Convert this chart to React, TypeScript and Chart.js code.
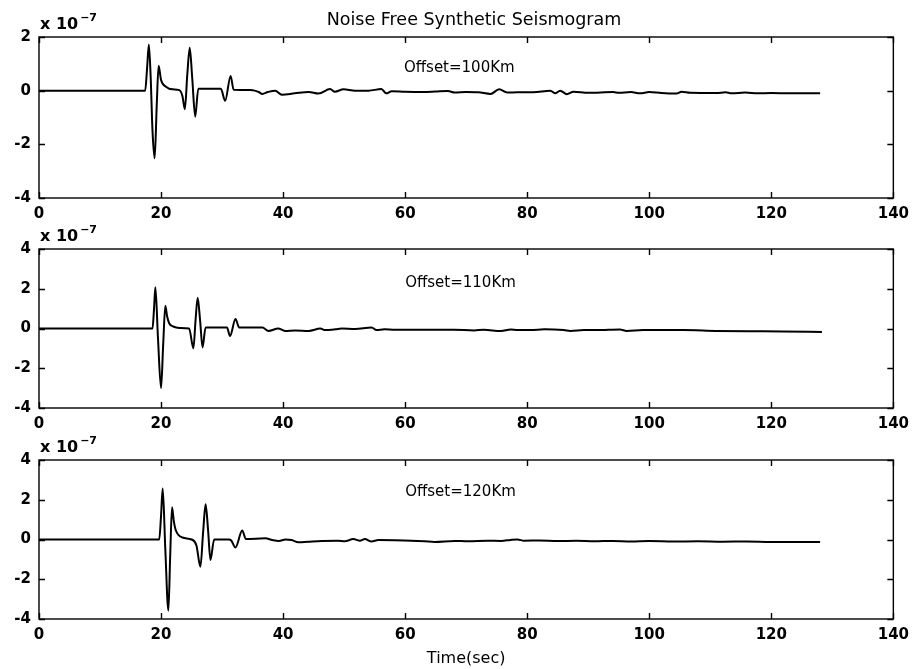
import React, { useEffect, useRef } from "react";
import { Chart, registerables } from "chart.js";

Chart.register(...registerables);

// ---------------- text ----------------
const TITLE = "Noise Free Synthetic Seismogram";
const X_LABEL = "Time(sec)";
const OFFSET_LABELS = ["Offset=100Km", "Offset=110Km", "Offset=120Km"];
const MULT_BASE = "x 10";
const MULT_EXP = "\u22127";

// ---------------- ticks ----------------
const X_TICKS = [0, 20, 40, 60, 80, 100, 120, 140];
const Y_TICKS_TOP = [-4, -2, 0, 2];
const Y_TICKS = [-4, -2, 0, 2, 4];

// ---------------- data (amplitude in units of 1e-7) ----------------
const T1 = [0, 17.4, 17.7, 18.0, 18.3, 18.6, 18.95, 19.3, 19.6, 20.0, 20.8, 21.9, 23.0, 23.5, 23.9, 24.3, 24.7, 25.1, 25.6, 26.1, 29.8, 30.5, 31.4, 31.9, 35.0, 36.0, 36.6, 37.5, 38.7, 39.8, 41.9, 44.2, 45.8, 47.7, 48.5, 49.9, 51.8, 54.0, 56.1, 56.9, 57.8, 60, 63, 65, 67.0, 68.1, 70, 72, 74.0, 75.4, 76.7, 78.4, 81, 83.8, 84.6, 85.4, 86.5, 87.6, 90, 94.1, 95, 97, 98.5, 100, 102, 104.5, 105.3, 106.7, 111, 112.5, 113.5, 115.7, 117.8, 120, 123, 128];
const A1 = [0, 0, 0.8, 1.72, 0.5, -1.5, -2.52, -0.5, 0.93, 0.4, 0.15, 0.05, 0.02, -0.2, -0.69, 0.6, 1.6, 0.5, -0.97, 0.07, 0.07, -0.38, 0.55, 0.03, 0.02, -0.05, -0.12, -0.05, 0.0, -0.15, -0.1, -0.05, -0.11, 0.06, -0.04, 0.05, 0.0, 0.0, 0.06, -0.1, -0.02, -0.04, -0.05, -0.03, -0.01, -0.07, -0.05, -0.06, -0.12, 0.05, -0.07, -0.06, -0.06, 0.0, -0.1, 0.0, -0.13, -0.04, -0.08, -0.05, -0.08, -0.05, -0.1, -0.05, -0.09, -0.11, -0.04, -0.08, -0.09, -0.06, -0.1, -0.07, -0.1, -0.09, -0.1, -0.1];

const T2 = [0, 18.6, 18.85, 19.07, 19.5, 20.0, 20.35, 20.7, 21.0, 21.35, 22.0, 23.0, 24.6, 25.3, 25.65, 26.0, 26.4, 26.8, 27.3, 30.8, 31.3, 32.2, 32.8, 36.6, 37.6, 39.2, 40.3, 42, 44.2, 46.1, 46.9, 48.6, 49.6, 51.8, 54.5, 55.3, 56.6, 58.3, 62, 65, 68, 71.3, 72.9, 75.7, 77.3, 78.4, 80.6, 82.8, 86.0, 87.1, 89.3, 91.4, 95.2, 96.3, 99.0, 105.5, 110.9, 116.3, 121.8, 128.3];
const A2 = [0, 0, 1.0, 2.08, -0.5, -3.0, -0.8, 1.15, 0.6, 0.25, 0.1, 0.03, 0.0, -1.0, 0.4, 1.55, 0.4, -0.95, 0.05, 0.05, -0.38, 0.48, 0.05, 0.05, -0.12, 0.0, -0.12, -0.1, -0.12, 0.0, -0.08, -0.04, 0.0, -0.02, 0.05, -0.08, -0.04, -0.06, -0.06, -0.06, -0.06, -0.1, -0.06, -0.13, -0.05, -0.08, -0.08, -0.04, -0.08, -0.12, -0.08, -0.08, -0.05, -0.12, -0.08, -0.08, -0.12, -0.14, -0.15, -0.18];

const T3 = [0, 19.7, 20.0, 20.27, 20.7, 21.2, 21.5, 21.8, 22.1, 22.4, 23.5, 25.0, 25.8, 26.45, 26.9, 27.3, 27.7, 28.1, 28.7, 31.1, 31.5, 32.2, 33.3, 33.9, 37.1, 38.2, 39.3, 40.4, 41.4, 42.5, 44.1, 46.3, 49.0, 50.1, 51.5, 52.6, 53.4, 54.5, 55.6, 58.3, 61, 63.2, 64.8, 68.1, 70.3, 73.5, 75.7, 77.3, 78.4, 79.5, 82, 85, 88, 91, 94, 97, 100, 104, 108, 112, 116, 120, 124, 128];
const A3 = [0, 0, 1.2, 2.57, -0.5, -3.58, -0.8, 1.62, 0.9, 0.48, 0.1, 0.0, -0.3, -1.37, 0.4, 1.77, 0.5, -1.03, 0.0, 0.0, -0.05, -0.4, 0.45, 0.02, 0.06, -0.02, -0.07, 0.0, -0.03, -0.14, -0.11, -0.07, -0.06, -0.09, 0.02, -0.06, 0.02, -0.1, -0.03, -0.04, -0.06, -0.09, -0.12, -0.07, -0.09, -0.06, -0.07, -0.02, 0.0, -0.06, -0.05, -0.08, -0.06, -0.09, -0.07, -0.1, -0.08, -0.1, -0.09, -0.11, -0.1, -0.12, -0.12, -0.13];

// ---------------- layout / style ----------------
const W = 916;
const FONT = "DejaVu Sans";
const PANELS = [
  { top: 0, height: 222, padTop: 37, xH: 24, yMin: -4, yMax: 2, yTicks: Y_TICKS_TOP, T: T1, A: A1, label: OFFSET_LABELS[0], labelAt: [59.8, 0.85], title: true, xlabel: false },
  { top: 222, height: 210, padTop: 27, xH: 24, yMin: -4, yMax: 4, yTicks: Y_TICKS, T: T2, A: A2, label: OFFSET_LABELS[1], labelAt: [60.0, 2.27], title: false, xlabel: false },
  { top: 432, height: 237, padTop: 28, xH: 50, yMin: -4, yMax: 4, yTicks: Y_TICKS, T: T3, A: A3, label: OFFSET_LABELS[2], labelAt: [60.0, 2.39], title: false, xlabel: true },
];

const decorPlugin = {
  id: "decor",
  afterDraw(chart: any, _args: any, opts: any) {
    const { ctx, chartArea: a, scales } = chart;
    const xs = scales.x, ys = scales.y;
    ctx.save();
    ctx.strokeStyle = "#000";
    ctx.lineWidth = 1.4;
    ctx.strokeRect(a.left, a.top, a.right - a.left, a.bottom - a.top);
    const L = 6;
    ctx.beginPath();
    xs.ticks.forEach((t: any) => {
      const px = Math.round(xs.getPixelForValue(t.value)) + 0.5;
      ctx.moveTo(px, a.bottom); ctx.lineTo(px, a.bottom - L);
      ctx.moveTo(px, a.top); ctx.lineTo(px, a.top + L);
    });
    ys.ticks.forEach((t: any) => {
      const py = Math.round(ys.getPixelForValue(t.value)) + 0.5;
      ctx.moveTo(a.left, py); ctx.lineTo(a.left + L, py);
      ctx.moveTo(a.right, py); ctx.lineTo(a.right - L, py);
    });
    ctx.stroke();

    ctx.fillStyle = "#000";
    // multiplier
    ctx.textAlign = "left";
    ctx.textBaseline = "alphabetic";
    ctx.font = `bold 16px '${FONT}'`;
    ctx.fillText(MULT_BASE, a.left + 1, a.top - 8);
    const wb = ctx.measureText(MULT_BASE).width;
    ctx.font = `bold 11px '${FONT}'`;
    ctx.fillText(MULT_EXP, a.left + 3 + wb, a.top - 16);

    // offset label
    ctx.font = `15px '${FONT}'`;
    ctx.textBaseline = "middle";
    ctx.fillText(opts.label, xs.getPixelForValue(opts.labelAt[0]), ys.getPixelForValue(opts.labelAt[1]));

    if (opts.title) {
      ctx.font = `17.5px '${FONT}'`;
      ctx.textAlign = "center";
      ctx.textBaseline = "alphabetic";
      ctx.fillText(TITLE, 474, 25);
    }
    if (opts.xlabel) {
      ctx.font = `16px '${FONT}'`;
      ctx.textAlign = "center";
      ctx.textBaseline = "alphabetic";
      ctx.fillText(X_LABEL, (a.left + a.right) / 2, a.bottom + 44);
    }
    ctx.restore();
  },
};

function Panel({ p }: { p: any }) {
  const ref = useRef<HTMLCanvasElement | null>(null);
  useEffect(() => {
    if (!ref.current) return;
    const chart = new Chart(ref.current, {
      type: "line",
      data: {
        datasets: [
          {
            data: p.T.map((t: number, i: number) => ({ x: t, y: p.A[i] })),
            borderColor: "#000",
            borderWidth: 2,
            pointRadius: 0,
            fill: false,
            cubicInterpolationMode: "monotone",
          },
        ],
      },
      options: {
        animation: false,
        responsive: false,
        devicePixelRatio: 1,
        layout: { padding: { left: 0, right: W - 898, top: p.padTop, bottom: 0 } },
        plugins: {
          legend: { display: false },
          tooltip: { enabled: false },
          title: { display: false },
          decor: { label: p.label, labelAt: p.labelAt, title: p.title, xlabel: p.xlabel },
        } as any,
        scales: {
          x: {
            type: "linear",
            min: 0,
            max: 140,
            grid: { display: false, drawTicks: false },
            border: { display: false },
            afterBuildTicks: (s: any) => { s.ticks = X_TICKS.map((v) => ({ value: v })); },
            afterFit: (s: any) => { s.height = p.xH; },
            ticks: { color: "#000", font: { family: FONT, size: 15, weight: "bold" }, padding: 7, maxRotation: 0, callback: (v: any) => `${v}` },
          },
          y: {
            type: "linear",
            min: p.yMin,
            max: p.yMax,
            grid: { display: false, drawTicks: false },
            border: { display: false },
            afterBuildTicks: (s: any) => { s.ticks = p.yTicks.map((v: number) => ({ value: v })); },
            afterFit: (s: any) => { s.width = 39; },
            ticks: { color: "#000", font: { family: FONT, size: 15, weight: "bold" }, padding: 8, callback: (v: any) => `${v}` },
          },
        },
      },
      plugins: [decorPlugin],
    } as any);
    return () => chart.destroy();
  }, []);
  return (
    <canvas
      ref={ref}
      width={W}
      height={p.height}
      style={{ position: "absolute", left: 0, top: p.top, width: W, height: p.height }}
    />
  );
}

export default function App() {
  return (
    <div style={{ position: "absolute", left: 0, top: 0, width: W, height: 669, background: "#fff" }}>
      {PANELS.map((p, i) => (
        <Panel key={i} p={p} />
      ))}
    </div>
  );
}
